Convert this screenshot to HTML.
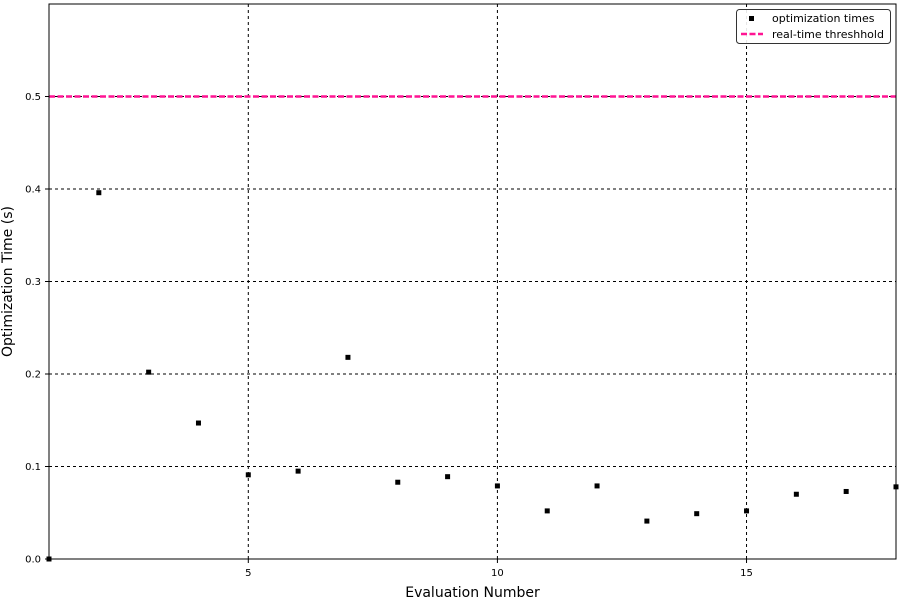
<!DOCTYPE html>
<html><head><meta charset="utf-8"><style>
body{margin:0;background:#fff;}
svg text{font-family:"DejaVu Sans","Liberation Sans",sans-serif;}
</style></head><body>
<svg id="chart" width="900" height="600" xmlns="http://www.w3.org/2000/svg"></svg>
<script>
const evalNumbers=[1,2,3,4,5,6,7,8,9,10,11,12,13,14,15,16,17,18];
const optTimes=[0.0,0.396,0.202,0.147,0.091,0.095,0.218,0.083,0.089,0.079,0.052,0.079,0.041,0.049,0.052,0.070,0.073,0.078];
const threshold=[0.5];
const xTicks=[5,10,15];
const yTicks=[0.0,0.1,0.2,0.3,0.4,0.5];
const yTickLabels=["0.0","0.1","0.2","0.3","0.4","0.5"];

const L=49,R=896,T=4,B=559;
const xMin=1,xMax=18,yMin=0,yMax=0.6;
const sx=v=>L+(v-xMin)/(xMax-xMin)*(R-L);
const sy=v=>B-(v-yMin)/(yMax-yMin)*(B-T);
const svg=document.getElementById('chart');
const NS='http://www.w3.org/2000/svg';
function mk(tag,attrs,parent){const e=document.createElementNS(NS,tag);for(const k in attrs)e.setAttribute(k,attrs[k]);(parent||svg).appendChild(e);return e;}

xTicks.forEach(v=>{
  const g=mk('line',{x1:sx(v),x2:sx(v),y1:T,y2:B,stroke:'#000','stroke-width':1,'stroke-dasharray':'3,3'});
  
  
  const t=mk('line',{x1:sx(v),x2:sx(v),y1:B,y2:B+4,stroke:'#000'});
  
  
  const l=mk('text',{x:sx(v),y:B+17,'text-anchor':'middle','font-size':10});
  l.textContent=v;
  
  
});
yTicks.forEach((v,i)=>{
  const g=mk('line',{x1:L,x2:R,y1:sy(v),y2:sy(v),stroke:'#000','stroke-width':1,'stroke-dasharray':'3,3'});
  
  
  const t=mk('line',{x1:L-4,x2:L,y1:sy(v),y2:sy(v),stroke:'#000'});
  
  
  const l=mk('text',{x:L-8,y:sy(v)+3.5,'text-anchor':'end','font-size':10});
  l.textContent=yTickLabels[i];
  
  
});
threshold.forEach(v=>{
  const th=mk('line',{x1:L,x2:R,y1:sy(v),y2:sy(v),stroke:'#ff1493','stroke-width':2.5,'stroke-dasharray':'6,2.5'});
  
  
});
evalNumbers.forEach((x,i)=>{
  const p=mk('rect',{x:sx(x)-2.5,y:sy(optTimes[i])-2.5,width:5,height:5,fill:'#000'});
  
  
});
const fr=mk('rect',{x:L,y:T,width:R-L,height:B-T,fill:'none',stroke:'#000','stroke-width':1});


const xt=mk('text',{x:(L+R)/2,y:597,'text-anchor':'middle','font-size':14});
xt.textContent='Evaluation Number';


const yt=mk('text',{x:0,y:0,'text-anchor':'middle','font-size':14,transform:`translate(12,${(T+B)/2}) rotate(-90)`});
yt.textContent='Optimization Time (s)';


const lg=mk('g',{});


mk('rect',{x:736.5,y:9.5,width:154,height:34,rx:3,fill:'#fff','fill-opacity':0.9,stroke:'#333'},lg);
const m=mk('rect',{x:749,y:16,width:5,height:5,fill:'#000'},lg);


const t1=mk('text',{x:772,y:22,'font-size':11},lg);
t1.textContent='optimization times';


const ml=mk('line',{x1:741,x2:763,y1:34,y2:34,stroke:'#ff1493','stroke-width':2.5,'stroke-dasharray':'6,2.5'},lg);


const t2=mk('text',{x:772,y:38,'font-size':11},lg);
t2.textContent='real-time threshhold';


</script>
</body></html>
